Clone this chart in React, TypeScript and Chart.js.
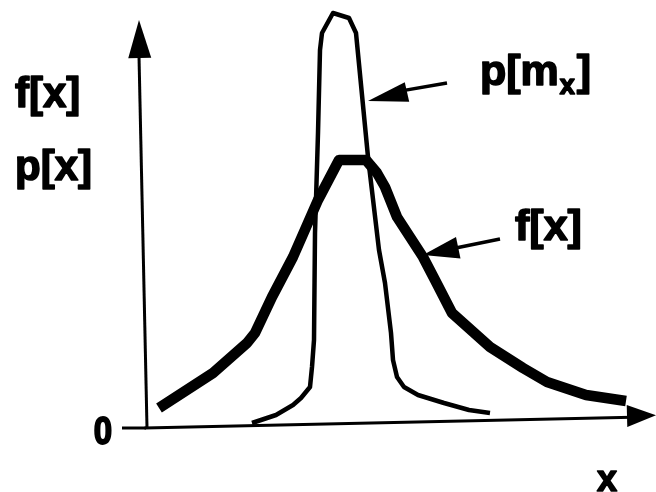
import React, { useEffect, useRef } from "react";
import { Chart, registerables } from "chart.js";

Chart.register(...registerables);

// f[x] : broad distribution (thick curve)
const fxX = [0.24, 1.32, 2.0, 2.16, 2.5, 2.92, 3.42, 3.84, 4.38, 4.6, 4.76, 5.0, 5.52, 5.76, 6.1, 6.86, 7.52, 8.0, 8.78, 9.58];
const fxY = [0.5, 1.375, 2.125, 2.375, 3.275, 4.275, 5.7, 6.7, 6.7, 6.375, 6.025, 5.275, 4.275, 3.7, 2.875, 2.025, 1.5, 1.15, 0.825, 0.675];

// p[m_x] : narrow distribution (thin curve)
const pmX = [2.1, 2.58, 2.92, 3.08, 3.26, 3.3, 3.34, 3.36, 3.42, 3.46, 3.5, 3.72, 4.04, 4.18, 4.42, 4.64, 4.76, 4.88, 4.92, 5.0, 5.14, 5.42, 5.94, 6.44, 6.86];
const pmY = [0.125, 0.325, 0.575, 0.75, 1.025, 1.525, 2.2, 4.875, 7.375, 9.45, 9.875, 10.375, 10.25, 9.875, 6.775, 4.45, 3.625, 2.375, 1.7, 1.275, 1.025, 0.825, 0.625, 0.45, 0.375];

const yAxisLabels = ["f[x]", "p[x]"];
const curveLabels = ["p[m", "x", "]", "f[x]"];
const zeroLabel = "0";
const xAxisLabel = "x";

const FONT = '"Liberation Sans", Arial, sans-serif';

function toPoints(xs: number[], ys: number[]) {
  return xs.map((x, i) => ({ x, y: ys[i] }));
}

const overlayPlugin = {
  id: "overlay",
  afterDatasetsDraw(chart: any) {
    const ctx: CanvasRenderingContext2D = chart.ctx;
    const sx = chart.scales.x;
    const sy = chart.scales.y;
    const px = (v: number) => sx.getPixelForValue(v);
    const py = (v: number) => sy.getPixelForValue(v);

    const line = (x1: number, y1: number, x2: number, y2: number, w: number) => {
      ctx.beginPath();
      ctx.moveTo(px(x1), py(y1));
      ctx.lineTo(px(x2), py(y2));
      ctx.lineWidth = w;
      ctx.lineCap = "butt";
      ctx.strokeStyle = "#000";
      ctx.stroke();
    };
    const head = (fromX: number, fromY: number, tipX: number, tipY: number, len: number, half: number) => {
      const tx = px(tipX), ty = py(tipY);
      const fx = px(fromX), fy = py(fromY);
      const dx = fx - tx, dy = fy - ty;
      const d = Math.hypot(dx, dy);
      const ux = dx / d, uy = dy / d;
      const bx = tx + ux * len, by = ty + uy * len;
      ctx.beginPath();
      ctx.moveTo(tx, ty);
      ctx.lineTo(bx - uy * half, by + ux * half);
      ctx.lineTo(bx + uy * half, by - ux * half);
      ctx.closePath();
      ctx.fillStyle = "#000";
      ctx.fill();
    };
    const text = (s: string, x: number, y: number, size: number, sy2 = 1) => {
      ctx.save();
      ctx.translate(x, y);
      ctx.scale(1, sy2);
      ctx.font = `bold ${size}px ${FONT}`;
      ctx.lineWidth = 1.6;
      ctx.lineJoin = "round";
      ctx.strokeStyle = "#000";
      ctx.fillText(s, 0, 0);
      ctx.strokeText(s, 0, 0);
      ctx.restore();
    };

    ctx.save();
    // y axis with arrow
    line(0, 0, -0.16, 9.3, 3);
    head(0, 0, -0.16, 10.2, 38, 11.5);
    // x axis with arrow
    line(-0.05, 0, 9.7, 0.27, 3);
    head(0, 0, 10.18, 0.32, 29, 11);
    // zero tick
    line(-0.5, 0, -0.02, 0, 3);

    // label arrows
    line(6.0, 8.625, 5.0, 8.41, 3.5);
    head(6.0, 8.625, 4.42, 8.175, 40, 10);
    line(7.06, 4.725, 6.1, 4.48, 3.5);
    head(7.06, 4.725, 5.52, 4.325, 36, 11);

    ctx.fillStyle = "#000";
    ctx.textBaseline = "alphabetic";
    ctx.textAlign = "left";
    text(yAxisLabels[0], px(-2.64), py(8.025), 42);
    text(yAxisLabels[1], px(-2.64), py(6.2), 42);

    // p[m_x]
    let x0 = px(6.66);
    const b0 = py(8.575);
    text(curveLabels[0], x0, b0, 43);
    ctx.font = `bold 43px ${FONT}`;
    x0 += ctx.measureText(curveLabels[0]).width + 1;
    text(curveLabels[1], x0, b0 + 9, 27);
    ctx.font = `bold 27px ${FONT}`;
    x0 += ctx.measureText(curveLabels[1]).width + 2;
    text(curveLabels[2], x0, b0, 43);

    text(curveLabels[3], px(7.36), py(4.7), 43);

    ctx.textAlign = "center";
    text(zeroLabel, px(-0.88), py(-0.4), 33, 1.15);
    text(xAxisLabel, px(9.2), py(-1.575), 36);
    ctx.restore();
  },
};

export default function App() {
  const ref = useRef<HTMLCanvasElement | null>(null);

  useEffect(() => {
    if (!ref.current) return;
    const chart = new Chart(ref.current, {
      type: "line",
      data: {
        datasets: [
          {
            label: "f[x]",
            data: toPoints(fxX, fxY),
            borderColor: "#000",
            borderWidth: 10.5,
            borderCapStyle: "butt",
            borderJoinStyle: "round",
            pointRadius: 0,
            tension: 0,
            fill: false,
            clip: false as any,
          },
          {
            label: "p[m_x]",
            data: toPoints(pmX, pmY),
            borderColor: "#000",
            borderWidth: 4.5,
            borderCapStyle: "butt",
            borderJoinStyle: "round",
            pointRadius: 0,
            tension: 0,
            fill: false,
            clip: false as any,
          },
        ],
      },
      options: {
        animation: false,
        responsive: false,
        maintainAspectRatio: false,
        layout: { padding: { left: 147, right: 9, top: 28, bottom: 64 } },
        plugins: { legend: { display: false }, tooltip: { enabled: false } },
        events: [],
        scales: {
          x: { type: "linear", min: 0, max: 10, display: false },
          y: { type: "linear", min: 0, max: 10, display: false },
        },
      },
      plugins: [overlayPlugin],
    });
    return () => chart.destroy();
  }, []);

  return (
    <div style={{ position: "fixed", left: 0, top: 0, width: 656, height: 492, background: "#fff" }}>
      <canvas ref={ref} width={656} height={492} style={{ display: "block" }} />
    </div>
  );
}
